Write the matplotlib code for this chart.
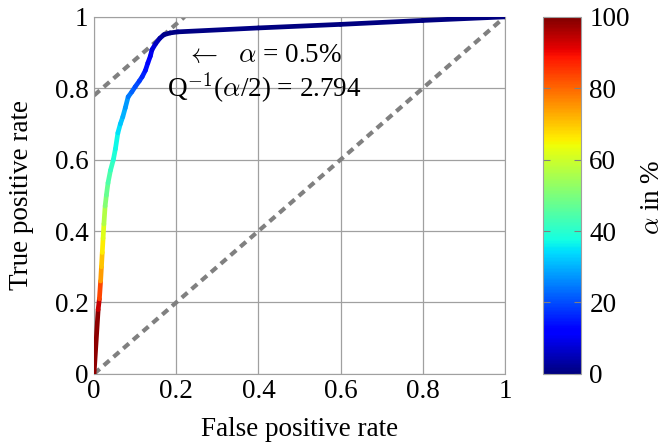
import numpy as np
import matplotlib
matplotlib.use("Agg")
import matplotlib.pyplot as plt
from matplotlib.collections import LineCollection

plt.rcParams['font.family'] = 'serif'
plt.rcParams['font.serif'] = ['Liberation Serif', 'DejaVu Serif']
plt.rcParams['mathtext.fontset'] = 'cm'
plt.rcParams['font.size'] = 19.5

# ROC curve: false/true positive rate and alpha (%) at each point
fpr = [0.0, 0.010, 0.013, 0.016, 0.018, 0.020, 0.022, 0.024, 0.027, 0.030,
       0.034, 0.040, 0.047, 0.052, 0.058, 0.064, 0.070, 0.076, 0.083, 0.092,
       0.100, 0.110, 0.117, 0.125, 0.131, 0.137, 0.141, 0.150, 0.160, 0.170,
       0.185, 0.204, 0.4, 0.6, 0.8, 1.0]
tpr = [0.0, 0.18, 0.21, 0.26, 0.30, 0.34, 0.38, 0.42, 0.47, 0.50,
       0.535, 0.57, 0.60, 0.63, 0.675, 0.70, 0.72, 0.745, 0.776, 0.79,
       0.804, 0.82, 0.832, 0.85, 0.871, 0.89, 0.908, 0.925, 0.94, 0.95,
       0.955, 0.958, 0.969, 0.979, 0.99, 1.0]
alpha = [100, 97, 90, 77, 72, 68, 64, 60, 53, 49,
         46, 43, 40, 38, 36, 33, 31, 29, 26, 23,
         21, 19, 17, 15, 13, 11, 9, 7, 4, 1.5,
         0.8, 0.5, 0.3, 0.2, 0.1, 0.0]

# reference lines
diag_x = [0, 1]
diag_y = [0, 1]
iso_x = [0, 0.22]
iso_y = [0.78, 1.0]

fig = plt.figure(figsize=(6.67, 4.44), dpi=100)
ax = fig.add_axes([0.141, 0.158, 0.616, 0.804])
cax = fig.add_axes([0.814, 0.158, 0.057, 0.804])

ax.plot(diag_x, diag_y, color='#808080', lw=3, dashes=(1.8, 1.3), zorder=2)
ax.plot(iso_x, iso_y, color='#808080', lw=3, dashes=(1.8, 1.3), zorder=2)

pts = np.column_stack([fpr, tpr]).reshape(-1, 1, 2)
segs = np.concatenate([pts[:-1], pts[1:]], axis=1)
a = np.array(alpha)
lc = LineCollection(segs, cmap='jet', linewidths=3.4, capstyle='round', zorder=3)
lc.set_array((a[:-1] + a[1:]) / 2)
lc.set_clim(0, 100)
ax.add_collection(lc)

ax.set_xlim(0, 1)
ax.set_ylim(0, 1)
ticks = [0, 0.2, 0.4, 0.6, 0.8, 1]
ax.set_xticks(ticks)
ax.set_yticks(ticks)
ax.set_xticklabels(['0', '0.2', '0.4', '0.6', '0.8', '1'])
ax.set_yticklabels(['0', '0.2', '0.4', '0.6', '0.8', '1'])
ax.grid(True, color='#a0a0a0', lw=0.9)
ax.set_axisbelow(True)
ax.tick_params(length=0, pad=4)
for s in ax.spines.values():
    s.set_color('#a0a0a0')
ax.set_xlabel('False positive rate', labelpad=9)
ax.set_ylabel('True positive rate', labelpad=15)

ax.text(0.415, 0.893, r'$\leftarrow\ \ \alpha$ = 0.5%', ha='center', va='center', zorder=4)
ax.text(0.415, 0.80, r'Q$^{\mathrm{-1}}$($\alpha$/2) = 2.794', ha='center', va='center', zorder=4)

cb = fig.colorbar(lc, cax=cax)
cb.set_ticks([0, 20, 40, 60, 80, 100])
cb.outline.set_edgecolor('#a0a0a0')
cax.tick_params(direction='in', length=5, color='#808080', left=True, right=True, pad=6)
fig.text(0.978, 0.556, r'$\alpha$ in %', rotation=90, ha='center', va='center')

fig.savefig('out.png', dpi=100)
